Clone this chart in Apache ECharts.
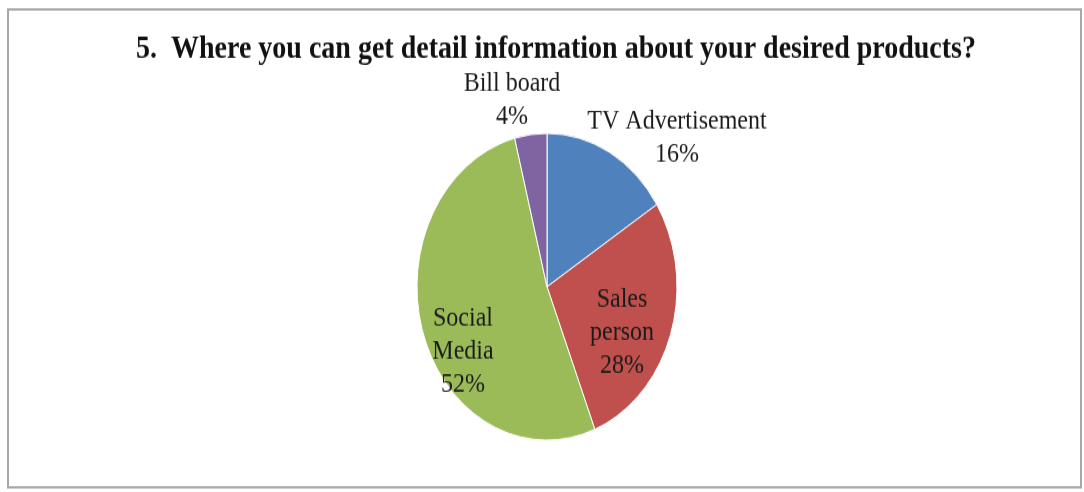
<!DOCTYPE html>
<html>
<head>
<meta charset="utf-8">
<script src="https://cdn.jsdelivr.net/npm/echarts@6/dist/echarts.min.js"></script>
<style>
  html, body { margin: 0; padding: 0; background: #fff; overflow: hidden; }
  /* the chart is laid out at a shorter height and stretched vertically,
     which turns the round pie into a tall oval */
  #wrap { width: 1084px; height: 492px; overflow: hidden; }
  #chart { width: 1084px; height: 417px; transform: scaleY(1.18); transform-origin: 0 0; }
</style>
</head>
<body>
<div id="wrap"><div id="chart"></div></div>
<script>
// Survey answers: where respondents get detailed product information
const titleText = '5.  Where you can get detail information about your desired products?';
const categories = ['TV Advertisement', 'Sales person', 'Social Media', 'Bill board'];
const shares = [16, 28, 52, 4];
const colors = ['#4f81bd', '#c0504d', '#9bbb59', '#8064a2'];

// label anchor points (layout coordinates before the vertical stretch)
const labelAnchors = [[677, 117], [622, 282], [463, 298], [512, 85]];
// slices whose label sits inside the slice and wraps one word per line
const wrapped = [false, true, true, false];

const serif = 'Liberation Serif';

const chart = echarts.init(document.getElementById('chart'), null, { renderer: 'canvas' });

chart.setOption({
  backgroundColor: '#fff',
  animation: false,
  title: {
    text: titleText,
    left: 551,
    textAlign: 'center',
    top: 23,
    textStyle: { fontFamily: serif, fontWeight: 'bold', fontSize: 28, color: '#111' }
  },
  graphic: [{
    type: 'rect',
    shape: { x: 8, y: 8, width: 1073, height: 405 },
    style: { fill: 'none', stroke: '#a8a8a8', lineWidth: 2 },
    silent: true
  }],
  series: [{
    type: 'pie',
    center: [547, 243],
    radius: [0, 130],
    startAngle: 90,
    clockwise: true,
    data: categories.map((name, i) => ({
      name: name,
      value: shares[i],
      itemStyle: { color: colors[i] }
    })),
    itemStyle: { borderColor: '#fff', borderWidth: 1 },
    label: {
      show: true,
      position: 'inside',
      fontFamily: serif,
      fontSize: 24,
      lineHeight: 28,
      color: '#1a1a1a',
      align: 'center',
      verticalAlign: 'middle',
      formatter: p => {
        const name = wrapped[p.dataIndex] ? p.name.split(' ').join('\n') : p.name;
        return name + '\n' + p.value + '%';
      }
    },
    labelLine: { show: false },
    labelLayout: p => ({
      x: labelAnchors[p.dataIndex][0],
      y: labelAnchors[p.dataIndex][1],
      align: 'center',
      verticalAlign: 'middle'
    }),
    emphasis: { disabled: true }
  }]
});
</script>
</body>
</html>
